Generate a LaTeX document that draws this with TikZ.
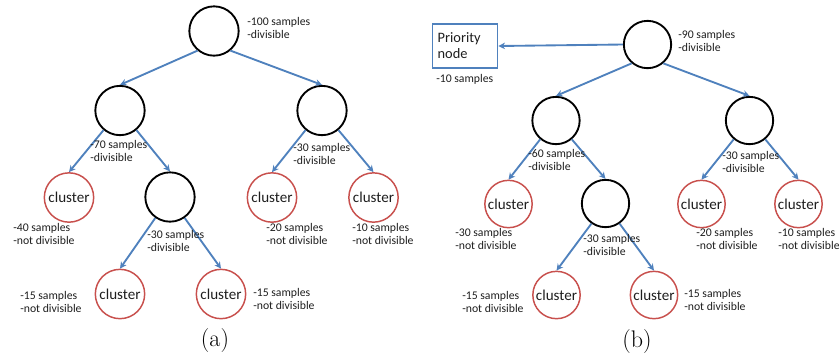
\documentclass[tikz,border=0pt]{standalone}
\usepackage{fontspec}
\setmainfont{Carlito}
\newfontfamily\lmfont{Latin Modern Roman}
\usetikzlibrary{arrows.meta}
\definecolor{arrowblue}{RGB}{79,129,189}
\definecolor{clusterred}{RGB}{200,80,77}
\definecolor{txtgray}{RGB}{30,30,30}
\begin{document}
\begin{tikzpicture}[x=0.75pt,y=-0.75pt,
  splitnode/.style={circle,draw=black,line width=1.4pt,minimum size=37pt,inner sep=0pt},
  splitnodeb/.style={splitnode,minimum size=35.5pt},
  clusternode/.style={circle,draw=clusterred,line width=1.1pt,minimum size=37pt,inner sep=0pt,
     font=\fontsize{11.3pt}{13pt}\selectfont,text=txtgray},
  clusternodeb/.style={clusternode,minimum size=35.5pt},
  info/.style={anchor=west,align=left,inner sep=0pt,font=\fontsize{8.8pt}{9.8pt}\selectfont,text=txtgray},
  link/.style={draw=arrowblue,line width=1.4pt,-{Stealth[length=5pt,width=5pt]}},
  prio/.style={draw=arrowblue,line width=1.1pt,minimum width=49pt,minimum height=33pt,inner sep=3pt,
     align=left,font=\fontsize{10.8pt}{12pt}\selectfont,text=txtgray,text width=41pt},
  caption/.style={font=\lmfont\fontsize{18pt}{20pt}\selectfont}
]
\useasboundingbox (0,0) rectangle (839,358);
% ---------- (a) ----------
\node[splitnode] (ar) at (214,31) {};
\node[splitnode] (al) at (120,110.5) {};
\node[splitnode] (ari) at (322,110.5) {};
\node[clusternode] (ac1) at (69,197.5) {cluster};
\node[splitnode] (am) at (170,197) {};
\node[clusternode] (ac2) at (272,197.5) {cluster};
\node[clusternode] (ac3) at (373.5,197.5) {cluster};
\node[clusternode] (ac4) at (120,294) {cluster};
\node[clusternode] (ac5) at (221,294) {cluster};

\draw[link] (ar.-130) -- (al.north);
\draw[link] (ar.-50) -- (ari.north);
\draw[link] (al.-130) -- (ac1.north);
\draw[link] (al.-50) -- (am.north);
\draw[link] (ari.-130) -- (ac2.north);
\draw[link] (ari.-50) -- (ac3.north);
\draw[link] (am.-125) -- (ac4.north);
\draw[link] (am.-55) -- (ac5.north);

\node[info] (la1) at (247,27.5) {-100 samples\\-divisible};
\node[info] (la2) at (90,150.5) {-70 samples\\-divisible};
\node[info] (la3) at (293,153.5) {-30 samples\\-divisible};
\node[info] (la4) at (13,234) {-40 samples\\-not divisible};
\node[info] (la5) at (147,241) {-30 samples\\-divisible};
\node[info] (la6) at (266,234) {-20 samples\\-not divisible};
\node[info] (la7) at (352,234) {-10 samples\\-not divisible};
\node[info] (la8) at (20,301.5) {-15 samples\\-not divisible};
\node[info] (la9) at (253,298.5) {-15 samples\\-not divisible};
\node[caption] (capa) at (215,341) {(a)};

% ---------- (b) ----------
\node[splitnodeb] (br) at (647.5,44.5) {};
\node[prio] (bp) at (465,46) {Priority\\node};
\node[splitnodeb] (bl) at (556,120.5) {};
\node[splitnodeb] (bri) at (749.5,120.5) {};
\node[clusternodeb] (bc1) at (508.5,204) {cluster};
\node[splitnodeb] (bm) at (605.5,203.5) {};
\node[clusternodeb] (bc2) at (701.5,204) {cluster};
\node[clusternodeb] (bc3) at (798.5,204) {cluster};
\node[clusternodeb] (bc4) at (556.5,295) {cluster};
\node[clusternodeb] (bc5) at (654,295) {cluster};

\draw[link] (br.west) -- (bp.east);
\draw[link] (br.-130) -- (bl.north);
\draw[link] (br.-50) -- (bri.north);
\draw[link] (bl.-130) -- (bc1.north);
\draw[link] (bl.-50) -- (bm.north);
\draw[link] (bri.-130) -- (bc2.north);
\draw[link] (bri.-50) -- (bc3.north);
\draw[link] (bm.-125) -- (bc4.north);
\draw[link] (bm.-55) -- (bc5.north);

\node[info] (lb0) at (436,79) {-10 samples};
\node[info] (lb1) at (678,41) {-90 samples\\-divisible};
\node[info] (lb2) at (528,159.5) {-60 samples\\-divisible};
\node[info] (lb3) at (722,161.5) {-30 samples\\-divisible};
\node[info] (lb4) at (455,238.5) {-30 samples\\-not divisible};
\node[info] (lb5) at (583,244.5) {-30 samples\\-divisible};
\node[info] (lb6) at (696,238.5) {-20 samples\\-not divisible};
\node[info] (lb7) at (778,238.5) {-10 samples\\-not divisible};
\node[info] (lb8) at (462,302) {-15 samples\\-not divisible};
\node[info] (lb9) at (684,299.5) {-15 samples\\-not divisible};
\node[caption] (capb) at (637,342) {(b)};
\end{tikzpicture}
\end{document}
